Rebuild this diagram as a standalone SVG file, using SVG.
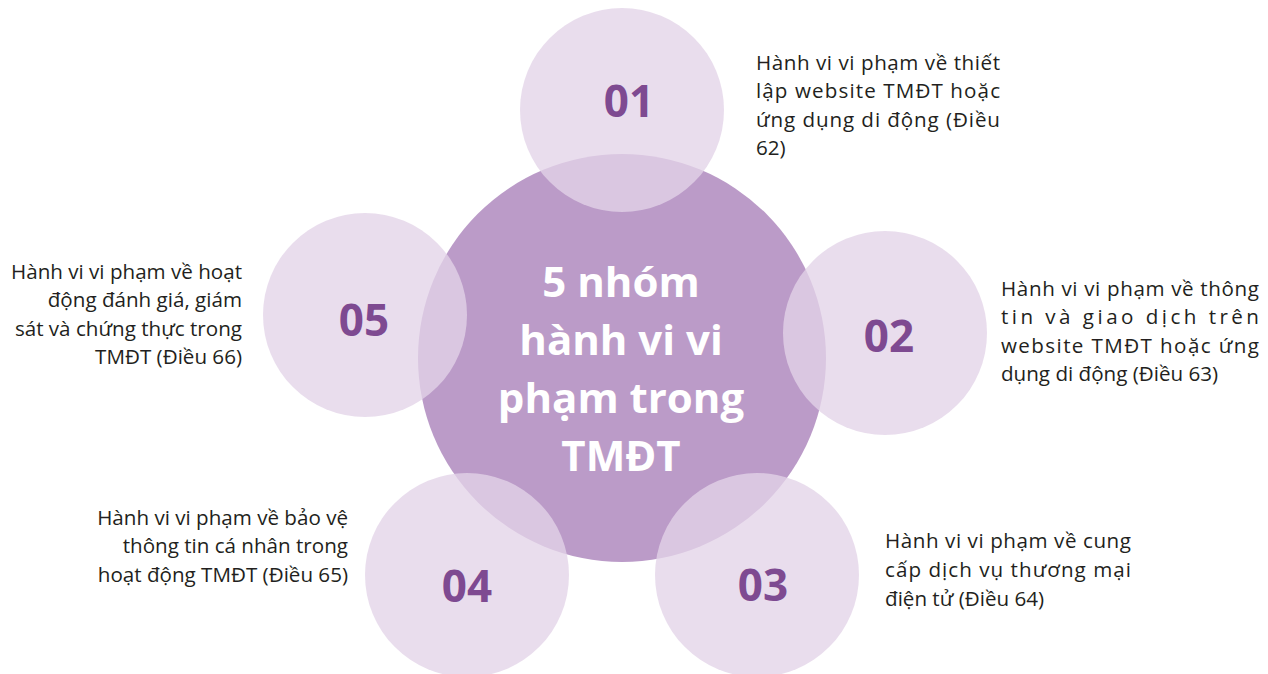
<svg xmlns="http://www.w3.org/2000/svg" width="1268" height="674" viewBox="0 0 1268 674">
<style>
.bg{fill:#ffffff}
.core{fill:#bb9bc8}
.petal{fill:#e3d4e8;fill-opacity:0.78}
.num{font-family:"Open Sans","Noto Sans",sans-serif;font-weight:700;font-size:44px;fill:#7e4a91;text-anchor:middle}
.title{font-family:"Open Sans","Noto Sans",sans-serif;font-weight:700;font-size:42px;fill:#ffffff;text-anchor:middle}
.body{font-family:"Open Sans","Noto Sans",sans-serif;font-size:20.6px;fill:#231f20}
.end{text-anchor:end}
</style>
<rect class="bg" x="0" y="0" width="1268" height="674"/>
<g id="center">
<circle class="core" cx="622" cy="358" r="204"/>
</g>
<g id="node-01">
<circle class="petal" cx="622" cy="110" r="102"/>
<text class="num" x="629" y="117">01</text>
<text class="body" x="756" y="70" textLength="244" lengthAdjust="spacing">Hành vi vi phạm về thiết</text>
<text class="body" x="756" y="98" textLength="244" lengthAdjust="spacing">lập website TMĐT hoặc</text>
<text class="body" x="756" y="127" textLength="244" lengthAdjust="spacing">ứng dụng di động (Điều</text>
<text class="body" x="756" y="155">62)</text>
</g>
<g id="node-02">
<circle class="petal" cx="885" cy="333" r="102"/>
<text class="num" x="889" y="352">02</text>
<text class="body" x="1001" y="296" textLength="258" lengthAdjust="spacing">Hành vi vi phạm về thông</text>
<text class="body" x="1001" y="324" textLength="258" lengthAdjust="spacing">tin và giao dịch trên</text>
<text class="body" x="1001" y="353" textLength="258" lengthAdjust="spacing">website TMĐT hoặc ứng</text>
<text class="body" x="1001" y="381">dụng di động (Điều 63)</text>
</g>
<g id="node-03">
<circle class="petal" cx="757" cy="575" r="102"/>
<text class="num" x="763" y="601">03</text>
<text class="body" x="885" y="548" textLength="246" lengthAdjust="spacing">Hành vi vi phạm về cung</text>
<text class="body" x="885" y="577" textLength="246" lengthAdjust="spacing">cấp dịch vụ thương mại</text>
<text class="body" x="885" y="606">điện tử (Điều 64)</text>
</g>
<g id="node-04">
<circle class="petal" cx="467" cy="575" r="102"/>
<text class="num" x="467" y="602">04</text>
<text class="body end" x="348" y="525">Hành vi vi phạm về bảo vệ</text>
<text class="body end" x="348" y="553">thông tin cá nhân trong</text>
<text class="body end" x="348" y="582">hoạt động TMĐT (Điều 65)</text>
</g>
<g id="node-05">
<circle class="petal" cx="365" cy="315" r="102"/>
<text class="num" x="364" y="336">05</text>
<text class="body end" x="242" y="279">Hành vi vi phạm về hoạt</text>
<text class="body end" x="242" y="307">động đánh giá, giám</text>
<text class="body end" x="242" y="336">sát và chứng thực trong</text>
<text class="body end" x="242" y="364">TMĐT (Điều 66)</text>
</g>
<g id="center-label">
<text class="title" x="621" y="297">5 nhóm</text>
<text class="title" x="621" y="355">hành vi vi</text>
<text class="title" x="621" y="413">phạm trong</text>
<text class="title" x="621" y="471">TMĐT</text>
</g>
<g id="connectors"></g>
</svg>
